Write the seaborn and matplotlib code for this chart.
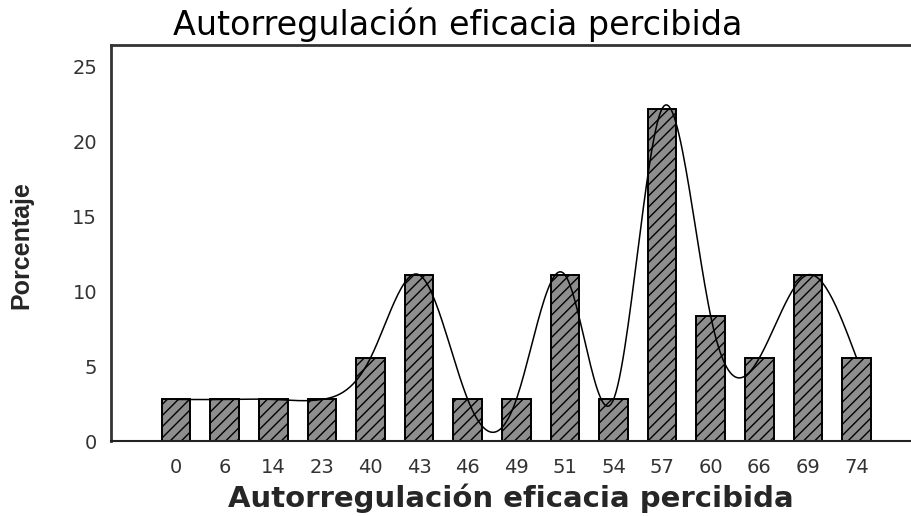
import numpy as np
import pandas as pd
import matplotlib
matplotlib.use("Agg")
import matplotlib.pyplot as plt
import seaborn as sns

# ---- data (36 cases -> percentages) ----
categories = ["0", "6", "14", "23", "40", "43", "46", "49", "51", "54", "57", "60", "66", "69", "74"]
counts = [1, 1, 1, 1, 2, 4, 1, 1, 4, 1, 8, 3, 2, 4, 2]
percent = [100.0 * c / sum(counts) for c in counts]
yticks = [0, 5, 10, 15, 20, 25]


def natural_spline(x, y, n=400):
    # natural cubic spline through the bar tops (the smoothed line SPSS draws)
    x = np.asarray(x, float)
    y = np.asarray(y, float)
    k = len(x)
    h = np.diff(x)
    A = np.zeros((k, k))
    b = np.zeros(k)
    A[0, 0] = A[-1, -1] = 1
    for i in range(1, k - 1):
        A[i, i - 1] = h[i - 1]
        A[i, i] = 2 * (h[i - 1] + h[i])
        A[i, i + 1] = h[i]
        b[i] = 6 * ((y[i + 1] - y[i]) / h[i] - (y[i] - y[i - 1]) / h[i - 1])
    M = np.linalg.solve(A, b)
    xs = np.linspace(x[0], x[-1], n)
    idx = np.clip(np.searchsorted(x, xs) - 1, 0, k - 2)
    x0, x1 = x[idx], x[idx + 1]
    hh = x1 - x0
    ys = (M[idx] * (x1 - xs) ** 3 / (6 * hh) + M[idx + 1] * (xs - x0) ** 3 / (6 * hh)
          + (y[idx] / hh - M[idx] * hh / 6) * (x1 - xs)
          + (y[idx + 1] / hh - M[idx + 1] * hh / 6) * (xs - x0))
    return xs, ys


df = pd.DataFrame({"valor": categories, "porcentaje": percent})

sns.set_style("white")
plt.rcParams["font.family"] = ["DejaVu Sans"]
plt.rcParams["hatch.linewidth"] = 1.0

fig = plt.figure(figsize=(9.11, 5.16), dpi=100)
ax = fig.add_axes([0.1218, 0.1453, 0.8782, 0.7675])

sns.barplot(data=df, x="valor", y="porcentaje", order=categories, ax=ax,
            color="#8e8e8e", edgecolor="black", linewidth=1.4, width=0.59,
            hatch="///", saturation=1)
for p in ax.patches:
    p.set_facecolor("#8e8e8e")
    p.set_edgecolor("black")

xs, ys = natural_spline(np.arange(len(categories)), percent)
ax.plot(xs, ys, color="black", lw=1.1)

ax.set_xlim(-1.34, 15.12)
ax.set_ylim(0, 26.47)
ax.set_yticks(yticks)
ax.set_yticklabels([str(t) for t in yticks])

for s in ["left", "top"]:
    ax.spines[s].set_color("#333333")
    ax.spines[s].set_linewidth(2.0)
ax.spines["bottom"].set_color("#222222")
ax.spines["bottom"].set_linewidth(1.5)
ax.spines["right"].set_visible(False)

ax.tick_params(axis="both", direction="out", length=7, width=2, color="#333333",
               labelsize=14, labelcolor="#333333", pad=3)
ax.tick_params(axis="x", length=8, pad=4)

ax.set_xlabel("Autorregulación eficacia percibida", fontsize=21, fontweight="bold")
ax.xaxis.set_label_coords(0.5, -0.108)
ax.set_ylabel("Porcentaje", fontsize=18, fontweight="bold",
              family=["Liberation Sans Narrow", "Liberation Sans"])
ax.yaxis.set_label_coords(-0.097, 0.495)
fig.text(0.502, 0.953, "Autorregulación eficacia percibida", fontsize=24,
         ha="center", va="center", color="black")

fig.savefig("out.png", dpi=100)
